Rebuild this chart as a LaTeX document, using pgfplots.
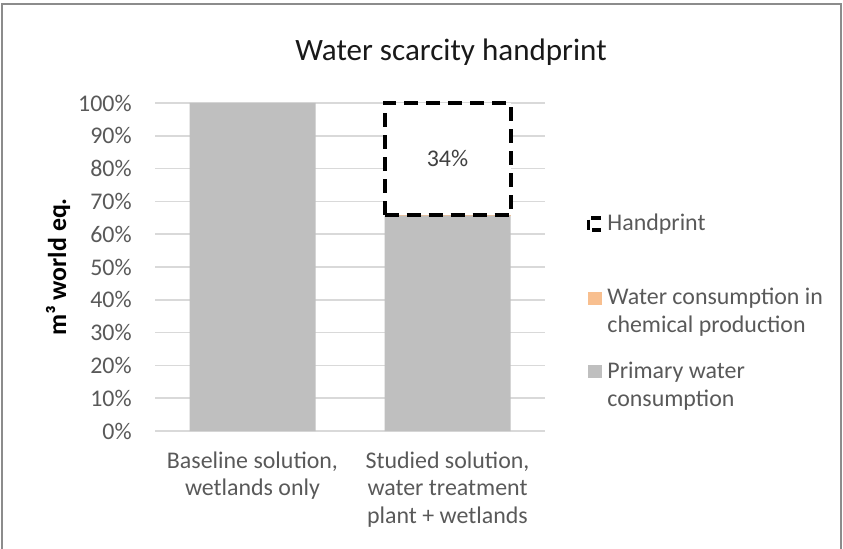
\documentclass[border=0pt]{standalone}
\usepackage{pgfplots}
\pgfplotsset{compat=1.18}
\usepackage{fontspec}
\setmainfont{Carlito}
\definecolor{txt}{HTML}{595959}
\definecolor{gridc}{HTML}{D9D9D9}
\definecolor{barg}{HTML}{BFBFBF}
\definecolor{orng}{HTML}{F8BF8F}
\definecolor{framec}{HTML}{8C8C8C}
\begin{document}
\begin{tikzpicture}
\path[use as bounding box] (-77.5bp,-59bp) rectangle (344bp,215.5bp);
\draw[framec, line width=0.75bp] (-76.5bp,-62bp) -- (-76.5bp,213.5bp) -- (343bp,213.5bp) -- (343bp,-62bp);
\pgfplotsset{
  common/.style={
    at={(0,0)}, anchor=south west,
    scale only axis, width=195bp, height=164bp,
    xmin=-0.5, xmax=1.5, ymin=0, ymax=100,
    ybar stacked, bar width=63bp,
    major tick length=0pt,
    clip=false,
  }
}
\begin{axis}[common,
  xtick={0,1},
  xticklabels={{Baseline solution,\\wetlands only},{Studied solution,\\water treatment\\plant + wetlands}},
  ytick={0,10,...,100},
  yticklabels={0\%,10\%,20\%,30\%,40\%,50\%,60\%,70\%,80\%,90\%,100\%},
  ymajorgrids, grid style={gridc, line width=0.75bp},
  axis line style={draw=none},
  tick label style={font=\fontsize{12}{14}\selectfont, text=txt, inner sep=0pt},
  xticklabel style={align=center, anchor=north, yshift=-10bp},
  yticklabel style={anchor=east, xshift=-11.5bp},
  ylabel={m³ world eq.},
  every axis y label/.style={at={(rel axis cs:0,0.5)}, xshift=-48.5bp, rotate=90, anchor=center, font=\fontsize{13}{15}\selectfont\bfseries, text=black},
]
\addplot[fill=barg, draw=none] coordinates {(0,100) (1,65.7)};
\addplot[fill=orng, draw=none] coordinates {(0,0) (1,0.3)};
\end{axis}
\begin{axis}[common, hide axis]
\addplot[fill=none, draw=none] coordinates {(1,66)};
\addplot[fill=white, draw=black, line width=2bp, dash pattern=on 7bp off 4bp,
  nodes near coords={34\%},
  every node near coord/.append style={anchor=center, yshift=0bp, font=\fontsize{12}{14}\selectfont, text=black!75, solid}]
  coordinates {(1,34)};
\end{axis}
% title
\node[font=\fontsize{15.6}{18}\selectfont, text=black!90] at (148bp,189.5bp) {Water scarcity handprint};
% legend
\draw[black, line width=1.6bp, dash pattern=on 5bp off 2bp] (223bp,106.5bp) -- (216.8bp,106.5bp) -- (216.8bp,100.5bp) -- (223bp,100.5bp);
\node[anchor=west, inner sep=0pt, font=\fontsize{12}{14}\selectfont, text=txt] at (226bp,103.5bp) {Handprint};
\fill[orng] (216.5bp,63bp) rectangle (223.5bp,69.5bp);
\node[anchor=west, inner sep=0pt, align=left, font=\fontsize{12}{14}\selectfont, text=txt] at (226bp,59.5bp) {Water consumption in\\chemical production};
\fill[barg] (216.5bp,26.5bp) rectangle (223.5bp,33bp);
\node[anchor=west, inner sep=0pt, align=left, font=\fontsize{12}{14}\selectfont, text=txt] at (226bp,22.5bp) {Primary water\\consumption};
\end{tikzpicture}
\end{document}
